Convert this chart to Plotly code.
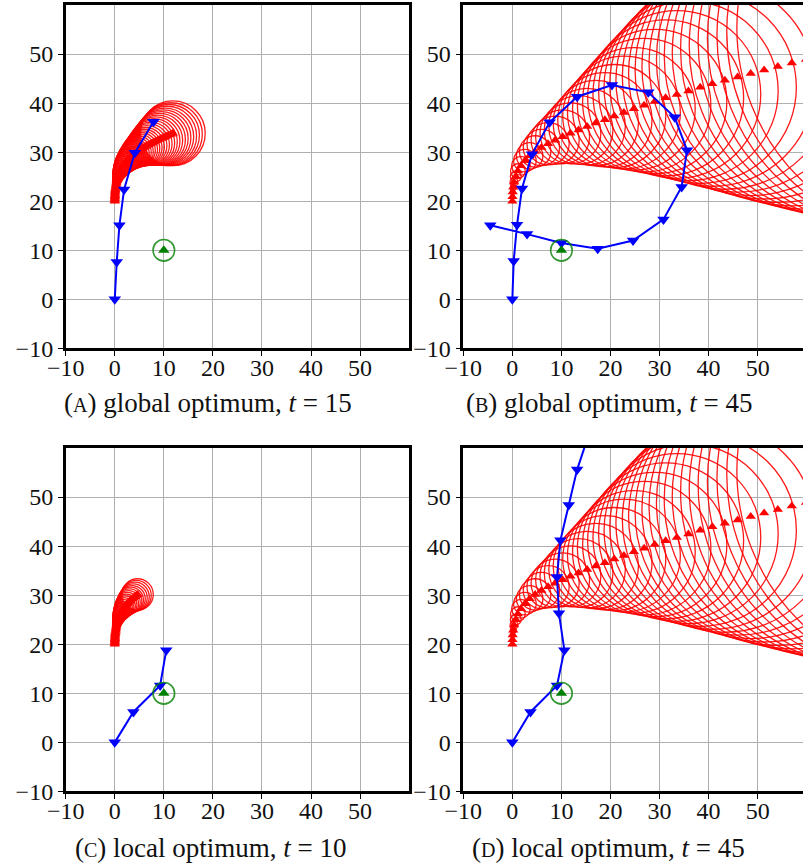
import plotly.graph_objects as go

# Predicted target track, sampled every time step (t = 0 ... 45)
track_x = [0, 0.03, 0.07, 0.19, 0.34, 0.69, 1.12, 1.75, 2.56, 3.52, 4.65, 5.92, 7.28, 8.72,
           10.24, 11.84, 13.50, 15.23, 17.01, 18.86, 20.77, 22.74, 24.77, 26.86, 29.02, 31.24,
           33.53, 35.88, 38.29, 40.76, 43.31, 45.92, 48.59, 51.32, 54.11, 56.96, 59.87, 62.86,
           65.89, 68.99, 72.15, 75.37, 78.65, 82.0, 85.4, 88.86]
track_y = [20, 20.9, 21.86, 22.87, 23.94, 25.03, 26.14, 27.23, 28.27, 29.26, 30.15, 30.95,
           31.71, 32.43, 33.14, 33.84, 34.52, 35.22, 35.93, 36.63, 37.37, 38.09, 38.83, 39.58,
           40.32, 41.07, 41.77, 42.49, 43.22, 43.96, 44.64, 45.34, 46.06, 46.76, 47.46, 48.17,
           48.9, 49.58, 50.29, 51.0, 51.7, 52.42, 53.14, 53.86, 54.58, 55.32]
track_r = [0.3, 0.4, 0.5, 0.6, 0.8, 1.1, 1.5, 1.9, 2.3, 2.7, 3.2, 3.7, 4.3, 4.9, 5.5, 6.2,
           7.0, 7.8, 8.7, 9.6, 10.5, 11.5, 12.5, 13.6, 14.7, 15.9, 17.1, 18.3, 19.6, 20.9,
           22.2, 23.5, 24.9, 26.3, 27.7, 29.1, 30.5, 31.9, 33.3, 34.7, 36.1, 37.5, 38.9,
           40.3, 41.7, 43.1]

# Same track on a quarter-step grid (t = 0 ... 15) for the short horizons
fine_x = [0, 0.01, 0.02, 0.02, 0.03, 0.04, 0.05, 0.06, 0.07, 0.09, 0.12, 0.16, 0.19, 0.23,
          0.27, 0.31, 0.34, 0.42, 0.51, 0.60, 0.69, 0.78, 0.87, 0.97, 1.12, 1.27, 1.43, 1.59,
          1.75, 1.91, 2.11, 2.33, 2.56, 2.79, 3.02, 3.25, 3.52, 3.80, 4.08, 4.36, 4.65, 4.95,
          5.27, 5.59, 5.92, 6.24, 6.58, 6.92, 7.28, 7.63, 7.99, 8.35, 8.72, 9.10, 9.48, 9.86,
          10.24, 10.64, 11.03, 11.43, 11.84]
fine_y = [20, 20.22, 20.44, 20.67, 20.9, 21.13, 21.37, 21.61, 21.86, 22.11, 22.36, 22.61,
          22.87, 23.13, 23.40, 23.67, 23.94, 24.21, 24.48, 24.75, 25.03, 25.30, 25.59, 25.87,
          26.14, 26.41, 26.68, 26.95, 27.23, 27.51, 27.77, 28.02, 28.27, 28.52, 28.77, 29.03,
          29.26, 29.48, 29.70, 29.92, 30.15, 30.37, 30.56, 30.75, 30.95, 31.15, 31.35, 31.53,
          31.71, 31.89, 32.07, 32.26, 32.43, 32.61, 32.79, 32.96, 33.14, 33.32, 33.49, 33.66,
          33.84]
fine_r = [0.3, 0.31, 0.35, 0.38, 0.4, 0.42, 0.45, 0.48, 0.5, 0.52, 0.55, 0.58, 0.6, 0.65,
          0.7, 0.75, 0.8, 0.88, 0.95, 1.02, 1.1, 1.2, 1.3, 1.4, 1.5, 1.6, 1.7, 1.8, 1.9, 2.0,
          2.1, 2.2, 2.3, 2.4, 2.5, 2.6, 2.7, 2.82, 2.95, 3.08, 3.2, 3.32, 3.45, 3.58, 3.72,
          3.88, 4.05, 4.22, 4.4, 4.58, 4.76, 4.94, 5.12, 5.3, 5.48, 5.66, 5.85, 6.04, 6.23,
          6.42, 6.6]

# Agent paths
agent_a_x = [0, 0.4, 0.95, 1.9, 4.1, 7.9]
agent_a_y = [0, 7.6, 15.1, 22.4, 29.9, 36.2]
agent_b_x = [0, 0.27, 0.95, 1.97, 4.0, 7.6, 13.2, 20.3, 27.7, 33.1, 35.6, 34.5, 30.8, 24.6,
             17.4, 10.0, 3.0, -4.5]
agent_b_y = [0, 7.8, 15.2, 22.6, 29.6, 36.1, 41.3, 43.7, 42.2, 37.1, 30.4, 22.9, 16.3, 12.0,
             10.3, 11.5, 13.3, 15.1]
agent_c_x = [0, 3.8, 9.25, 10.5]
agent_c_y = [0, 6.2, 11.6, 18.8]
agent_d_x = [0, 3.7, 9.1, 10.6, 9.5, 9.1, 9.8, 11.5, 13.2, 15.6, 18.0]
agent_d_y = [0, 6.2, 11.6, 18.8, 26.3, 33.7, 41.2, 48.4, 55.6, 62.8, 69.8]

goal_x, goal_y, goal_r = 10, 10, 2.2

ticks = [-10, 0, 10, 20, 30, 40, 50]
captions = [
    "(<span style='font-size:20px'>A</span>) global optimum, <i>t</i> = 15",
    "(<span style='font-size:20px'>B</span>) global optimum, <i>t</i> = 45",
    "(<span style='font-size:20px'>C</span>) local optimum, <i>t</i> = 10",
    "(<span style='font-size:20px'>D</span>) local optimum, <i>t</i> = 45",
]

FONT = "Liberation Serif, DejaVu Serif, serif"
W, H = 803, 864
UNIT = 4.906  # pixels per data unit

panels = [
    # (track x, y, r, agent x, agent y, left px, top px)
    (fine_x, fine_y, fine_r, agent_a_x, agent_a_y, 65.7, 5.0),
    (track_x, track_y, track_r, agent_b_x, agent_b_y, 463.3, 5.0),
    (fine_x[:41], fine_y[:41], fine_r[:41], agent_c_x, agent_c_y, 65.7, 448.0),
    (track_x, track_y, track_r, agent_d_x, agent_d_y, 463.3, 448.0),
]

fig = go.Figure()
shapes = []
layout = {}
size_px = 70 * UNIT

for i, (tx, ty, tr, ax, ay, left, top) in enumerate(panels):
    n = "" if i == 0 else str(i + 1)
    xref, yref = "x" + n, "y" + n
    right = min(left + size_px, W)
    xmax = -10 + (right - left) / UNIT
    clipped = right < left + size_px - 0.5
    common = dict(
        tickvals=ticks, ticks="outside", ticklen=5, tickwidth=1, tickcolor="black",
        showline=True, linewidth=2.5, linecolor="black", automargin=False,
        showgrid=True, gridcolor="#b0b0b0", gridwidth=1, zeroline=False,
        tickfont=dict(family=FONT, size=24, color="#111"),
    )
    layout["xaxis" + n] = dict(domain=[left / W, right / W], range=[-10, xmax], anchor=yref,
                               mirror=True, ticklabelstandoff=-9, **common)
    layout["yaxis" + n] = dict(domain=[1 - (top + size_px) / H, 1 - top / H], range=[-10, 60],
                               anchor=xref, mirror=not clipped, ticklabelstandoff=0, **common)
    # uncertainty circles around the predicted track
    for cx, cy, r in zip(tx, ty, tr):
        shapes.append(dict(type="circle", xref=xref, yref=yref, layer="between",
                           x0=cx - r, x1=cx + r, y0=cy - r, y1=cy + r,
                           line=dict(color="rgba(255,0,0,0.9)", width=1.3)))
    # goal region
    shapes.append(dict(type="circle", xref=xref, yref=yref, layer="above",
                       x0=goal_x - goal_r, x1=goal_x + goal_r,
                       y0=goal_y - goal_r, y1=goal_y + goal_r,
                       line=dict(color="rgba(0,128,0,0.8)", width=1.6)))
    fig.add_trace(go.Scatter(x=tx, y=ty, xaxis=xref, yaxis=yref, mode="markers",
                             marker=dict(symbol="triangle-up", size=9, color="#ff0000",
                                         line=dict(width=0))))
    fig.add_trace(go.Scatter(x=ax, y=ay, xaxis=xref, yaxis=yref, mode="lines+markers",
                             line=dict(color="#0000ff", width=2),
                             marker=dict(symbol="triangle-down", size=11, color="#0000ff",
                                         line=dict(width=0))))
    fig.add_trace(go.Scatter(x=[goal_x], y=[goal_y], xaxis=xref, yaxis=yref, mode="markers",
                             marker=dict(symbol="triangle-up", size=10, color="#008000",
                                         line=dict(width=0))))

annotations = []
cap_pos = [(208, 403), (609, 403), (211, 848), (608, 848)]
for text, (px, py) in zip(captions, cap_pos):
    annotations.append(dict(text=text, x=px / W, y=1 - py / H, xref="paper", yref="paper",
                            xanchor="center", yanchor="middle", showarrow=False,
                            font=dict(family=FONT, size=27, color="#111")))

fig.update_layout(width=W, height=H, margin=dict(l=0, r=0, t=0, b=0, autoexpand=False),
                  paper_bgcolor="white", plot_bgcolor="white", showlegend=False,
                  shapes=shapes, annotations=annotations, **layout)
fig.write_html("out.html")
